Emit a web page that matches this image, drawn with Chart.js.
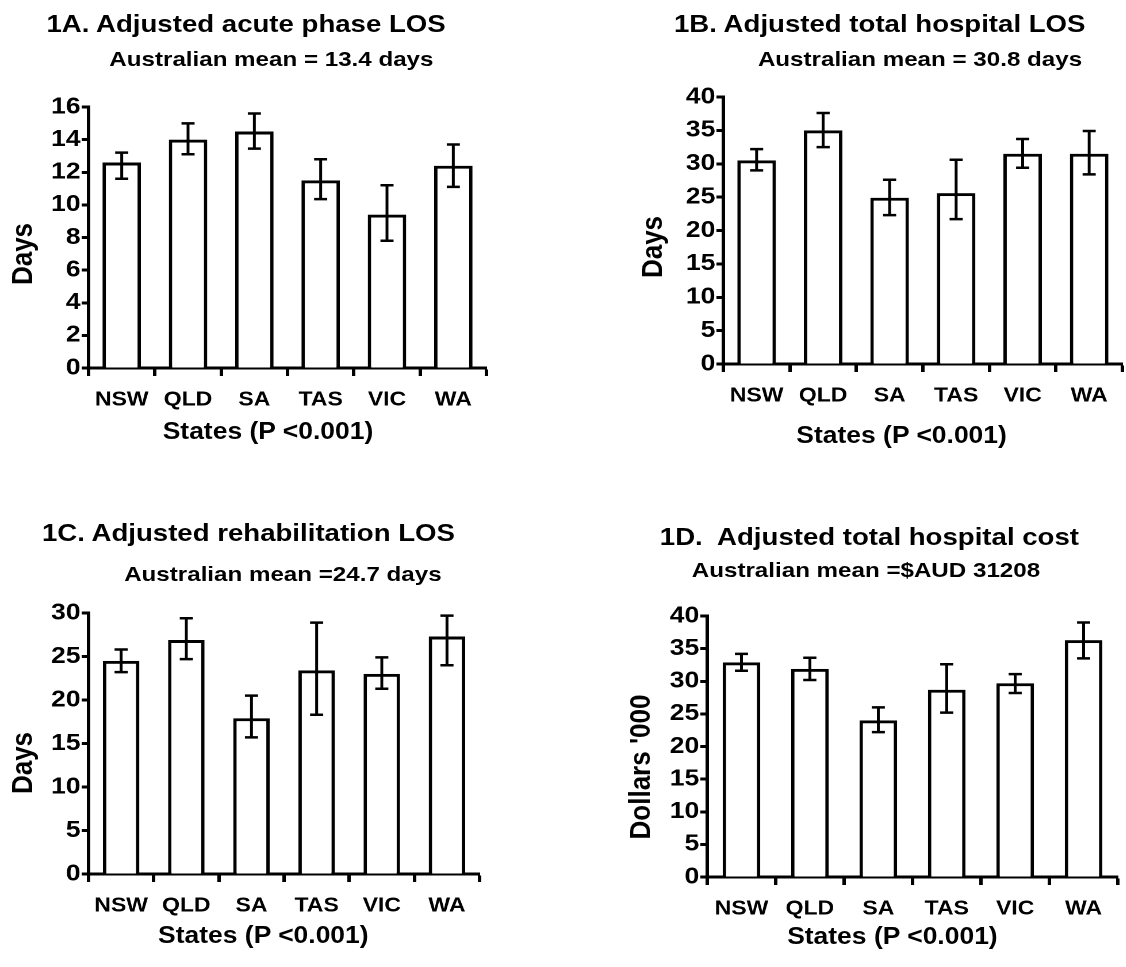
<!DOCTYPE html>
<html>
<head>
<meta charset="utf-8">
<script src="https://cdn.jsdelivr.net/npm/chart.js@4.4.1/dist/chart.umd.min.js"></script>
<style>
  html, body { margin: 0; padding: 0; background: #fff; overflow: hidden; }
  #stage { position: absolute; left: 0; top: 0; width: 979px; height: 967px;
           transform: scaleX(1.15); transform-origin: 0 0; }
  #stage canvas { position: absolute; }
  .t { position: absolute; transform: translate(-50%, -50%); white-space: nowrap;
       font-family: "Liberation Sans", Arial, sans-serif; font-weight: bold; line-height: 1; color: #000; }
  .title { font-size: 24px; }
  .sub { font-size: 21px; }
  .xt { font-size: 23px; }
  .yt { font-size: 26px; transform: translate(-50%, -50%) rotate(-90deg); }
</style>
</head>
<body>
<div id="stage">
  <div class="t title" style="left:214px; top:24px">1A. Adjusted acute phase LOS</div>
  <div class="t sub" style="left:236px; top:58px">Australian mean = 13.4 days</div>
  <div class="t yt" style="left:19px; top:254px">Days</div>
  <div class="t xt" style="left:233px; top:431px">States (P &lt;0.001)</div>
  <canvas id="cA"></canvas>

  <div class="t title" style="left:765px; top:24px">1B. Adjusted total hospital LOS</div>
  <div class="t sub" style="left:800px; top:58px">Australian mean = 30.8 days</div>
  <div class="t yt" style="left:567px; top:247px">Days</div>
  <div class="t xt" style="left:784px; top:435px">States (P &lt;0.001)</div>
  <canvas id="cB"></canvas>

  <div class="t title" style="left:216px; top:533px">1C. Adjusted rehabilitation LOS</div>
  <div class="t sub" style="left:246px; top:573px">Australian mean =24.7 days</div>
  <div class="t yt" style="left:19px; top:763px">Days</div>
  <div class="t xt" style="left:229px; top:935px">States (P &lt;0.001)</div>
  <canvas id="cC"></canvas>

  <div class="t title" style="left:756px; top:537px">1D.&nbsp; Adjusted total hospital cost</div>
  <div class="t sub" style="left:753px; top:569px">Australian mean =$AUD 31208</div>
  <div class="t yt" style="left:556px; top:767px">Dollars '000</div>
  <div class="t xt" style="left:776px; top:936px">States (P &lt;0.001)</div>
  <canvas id="cD"></canvas>
</div>
<script>
const states = ['NSW', 'QLD', 'SA', 'TAS', 'VIC', 'WA'];

// 1A acute phase LOS (days)
const acuteMean = [12.6, 14.0, 14.5, 11.5, 9.4, 12.4];
const acuteLow  = [11.6, 13.1, 13.45, 10.35, 7.8, 11.1];
const acuteHigh = [13.2, 15.0, 15.6, 12.8, 11.2, 13.7];

// 1B total hospital LOS (days)
const totalMean = [30.5, 35.0, 24.9, 25.6, 31.5, 31.5];
const totalLow  = [29.0, 32.5, 22.3, 21.7, 29.4, 28.4];
const totalHigh = [32.2, 37.6, 27.6, 30.6, 33.7, 34.9];

// 1C rehabilitation LOS (days)
const rehabMean = [24.5, 26.9, 17.9, 23.4, 23.0, 27.3];
const rehabLow  = [23.2, 24.7, 15.7, 18.3, 21.3, 24.0];
const rehabHigh = [25.8, 29.4, 20.5, 28.9, 24.9, 29.7];

// 1D total hospital cost (AUD '000)
const costMean = [32.9, 31.9, 24.0, 28.7, 29.7, 36.3];
const costLow  = [31.6, 30.2, 22.2, 25.2, 28.2, 33.5];
const costHigh = [34.2, 33.6, 26.0, 32.6, 31.1, 39.0];

const FONT = '"Liberation Sans", Arial, sans-serif';

// whiskers drawn from the low/high arrays through the y scale
const errorBars = {
  id: 'errorBars',
  afterDatasetsDraw(chart, args, opts) {
    const { ctx, scales: { y } } = chart;
    const meta = chart.getDatasetMeta(0);
    ctx.save();
    ctx.strokeStyle = '#000';
    ctx.lineWidth = opts.width || 2.5;
    meta.data.forEach((bar, i) => {
      const x = bar.x;
      const yLo = y.getPixelForValue(opts.low[i]);
      const yHi = y.getPixelForValue(opts.high[i]);
      const cap = opts.cap || 5.7;
      ctx.beginPath();
      ctx.moveTo(x, yLo); ctx.lineTo(x, yHi);
      ctx.moveTo(x - cap, yLo); ctx.lineTo(x + cap, yLo);
      ctx.moveTo(x - cap, yHi); ctx.lineTo(x + cap, yHi);
      ctx.stroke();
    });
    ctx.restore();
  }
};

function makePanel(id, area, mean, low, high, yMax, yStep, barPct) {
  const left = area.left - 60, top = area.top - 25;
  const right = area.right + 15, bottom = area.bottom + 55;
  const cv = document.getElementById(id);
  cv.style.left = left + 'px';
  cv.style.top = top + 'px';
  cv.width = right - left;
  cv.height = bottom - top;
  return new Chart(cv, {
    type: 'bar',
    data: {
      labels: states,
      datasets: [{
        data: mean,
        backgroundColor: '#fff',
        borderColor: '#000',
        borderWidth: 3,
        barPercentage: barPct,
        categoryPercentage: 1
      }]
    },
    options: {
      responsive: false,
      devicePixelRatio: 2,
      animation: false,
      layout: { padding: { left: 0, top: area.top - top, right: right - area.right, bottom: 0 } },
      plugins: {
        legend: { display: false },
        tooltip: { enabled: false },
        errorBars: { low, high }
      },
      scales: {
        x: {
          afterFit: s => { s.height = bottom - area.bottom; },
          grid: { display: true, drawOnChartArea: false, offset: true, color: '#000', tickLength: 8, tickWidth: 3 },
          border: { display: true, color: '#000', width: 3 },
          ticks: { color: '#000', padding: 12, font: { family: FONT, size: 20, weight: 'bold' } }
        },
        y: {
          min: 0, max: yMax,
          afterFit: s => { s.width = area.left - left; },
          grid: { display: true, drawOnChartArea: false, color: '#000', tickLength: 6, tickWidth: 3 },
          border: { display: true, color: '#000', width: 3 },
          ticks: { stepSize: yStep, color: '#000', padding: 1, font: { family: FONT, size: 23, weight: 'bold' } }
        }
      }
    },
    plugins: [errorBars]
  });
}

makePanel('cA', { left: 77.4, top: 106.7, right: 424.3, bottom: 368 }, acuteMean, acuteLow, acuteHigh, 16, 2, 0.58);
makePanel('cB', { left: 628.7, top: 97.3, right: 975.7, bottom: 365 }, totalMean, totalLow, totalHigh, 40, 5, 0.58);
makePanel('cC', { left: 76.5, top: 613.3, right: 417.4, bottom: 875 }, rehabMean, rehabLow, rehabHigh, 30, 5, 0.56);
makePanel('cD', { left: 614.8, top: 616, right: 972.2, bottom: 877.3 }, costMean, costLow, costHigh, 40, 5, 0.55);
</script>
</body>
</html>
